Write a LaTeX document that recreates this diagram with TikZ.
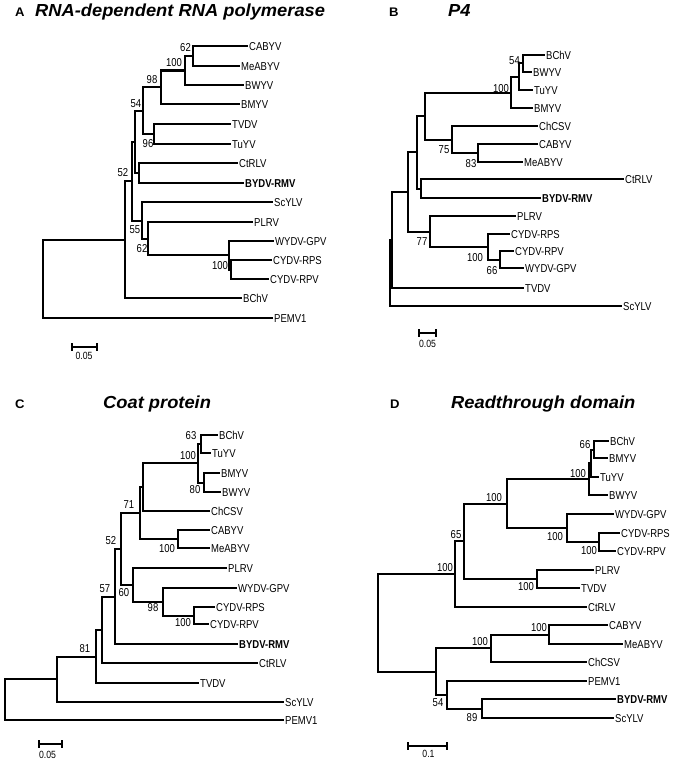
\documentclass[tikz,border=0pt]{standalone}
\usepackage{fontspec}
\newfontfamily\leaffont[FakeStretch=0.83]{Liberation Sans}
\newfontfamily\headfont[FakeStretch=1.05]{Liberation Sans}

\begin{document}
\begin{tikzpicture}[x=1bp, y=-1bp,
  branch/.style={line width=2bp, line cap=rect},
  leaf/.style={anchor=west, inner xsep=2pt, inner ysep=0pt, text height=8.3pt, text depth=0pt,
    font=\leaffont\fontsize{11.5}{12}\selectfont},
  rmv/.style={leaf, font=\leaffont\bfseries\fontsize{11.5}{12}\selectfont},
  bs/.style={inner sep=0pt, text height=8.3pt, text depth=0pt, font=\leaffont\fontsize{11.5}{12}\selectfont},
  panel/.style={anchor=base west, inner sep=0pt, font=\headfont\bfseries\fontsize{12.5}{14}\selectfont},
  heading/.style={anchor=base west, inner sep=0pt, font=\headfont\bfseries\itshape\fontsize{17.5}{20}\selectfont},
  scalebar/.style={line width=2bp},
  scaletext/.style={inner sep=0pt, text height=8pt, text depth=0pt, font=\leaffont\fontsize{10.5}{12}\selectfont}
]
  \useasboundingbox (0,0) rectangle (679,764);

  % ---- A: RdRp ----
  \node[panel] (pA) at (15,17) {A};
  \node[heading] (hA) at (35,17) {RNA-dependent RNA polymerase};
  \coordinate (a62) at (193,56);
  \coordinate (a100) at (185,70.5);
  \coordinate (a98) at (161,87);
  \coordinate (a96) at (154,134);
  \coordinate (a54) at (143,110.5);
  \coordinate (act) at (139,173);
  \coordinate (ax1) at (135,142);
  \coordinate (arp) at (231,269.5);
  \coordinate (a100b) at (229,255);
  \coordinate (a62b) at (148,238.5);
  \coordinate (a55) at (142,220.5);
  \coordinate (a52) at (132,181);
  \coordinate (abc) at (125,239.5);
  \coordinate (aroot) at (43,279);
  \node[leaf] (aCABYV) at (247,46) {CABYV};
  \node[leaf] (aMeABYV) at (239,66) {MeABYV};
  \node[leaf] (aBWYV) at (243,85) {BWYV};
  \node[leaf] (aBMYV) at (239,104) {BMYV};
  \node[leaf] (aTVDV) at (230,124) {TVDV};
  \node[leaf] (aTuYV) at (230,144) {TuYV};
  \node[leaf] (aCtRLV) at (237,163) {CtRLV};
  \node[rmv] (aRMV) at (243,183) {BYDV-RMV};
  \node[leaf] (aScYLV) at (272,202) {ScYLV};
  \node[leaf] (aPLRV) at (252,222) {PLRV};
  \node[leaf] (aWYDV) at (273,241) {WYDV-GPV};
  \node[leaf] (aRPS) at (271,260) {CYDV-RPS};
  \node[leaf] (aRPV) at (268,279) {CYDV-RPV};
  \node[leaf] (aBChV) at (241,298) {BChV};
  \node[leaf] (aPEMV) at (272,318) {PEMV1};
  \foreach \p/\c in {a62/aCABYV, a62/aMeABYV, a100/aBWYV, a98/aBMYV, a96/aTVDV, a96/aTuYV,
      act/aCtRLV, act/aRMV, a55/aScYLV, a62b/aPLRV, a100b/aWYDV, arp/aRPS, arp/aRPV,
      abc/aBChV, aroot/aPEMV}
    \draw[branch] (\p) |- (\c.west);
  \foreach \p/\c in {a100/a62, a98/a100, a54/a98, a54/a96, ax1/a54, ax1/act, a52/ax1, a52/a55,
      a55/a62b, a62b/a100b, a100b/arp, abc/a52, aroot/abc}
    \draw[branch] (\p) |- (\c);
  \foreach \x/\y/\t [count=\i] in {185.5/47/62, 174/62/100, 152/79/98, 136/103/54, 148/143/96,
      123/172/52, 135/229/55, 142/248/62, 220/265/100}
    \node[bs] (bsA\i) at (\x,\y) {\t};
  \coordinate (sa1) at (72,347);
  \coordinate (sa2) at (97,347);
  \draw[scalebar] ([yshift=4pt]sa1) -- ([yshift=-4pt]sa1) (sa1) -- (sa2)
    ([yshift=4pt]sa2) -- ([yshift=-4pt]sa2);
  \node[scaletext] (saT) at (84,356) {0.05};

  % ---- B: P4 ----
  \node[panel] (pB) at (389,17) {B};
  \node[heading] (hB) at (448,17) {P4};
  \coordinate (b54) at (523,63.5);
  \coordinate (btu) at (519,77);
  \coordinate (b100) at (511,92.5);
  \coordinate (b83) at (478,153);
  \coordinate (b75) at (452,139.5);
  \coordinate (bup) at (425,116);
  \coordinate (bct) at (421,188.5);
  \coordinate (bmid) at (417,152);
  \coordinate (b66) at (500,259.5);
  \coordinate (b100b) at (488,247);
  \coordinate (b77) at (430,231.5);
  \coordinate (bin) at (408,192);
  \coordinate (btv) at (392,240);
  \coordinate (broot) at (390,273);
  \node[leaf] (bBChV) at (544,55) {BChV};
  \node[leaf] (bBWYV) at (531,72) {BWYV};
  \node[leaf] (bTuYV) at (532,90) {TuYV};
  \node[leaf] (bBMYV) at (532,108) {BMYV};
  \node[leaf] (bChCSV) at (537,126) {ChCSV};
  \node[leaf] (bCABYV) at (537,144) {CABYV};
  \node[leaf] (bMeABYV) at (522,162) {MeABYV};
  \node[leaf] (bCtRLV) at (623,179) {CtRLV};
  \node[rmv] (bRMV) at (540,198) {BYDV-RMV};
  \node[leaf] (bPLRV) at (515,216) {PLRV};
  \node[leaf] (bRPS) at (509,234) {CYDV-RPS};
  \node[leaf] (bRPV) at (513,251) {CYDV-RPV};
  \node[leaf] (bWYDV) at (523,268) {WYDV-GPV};
  \node[leaf] (bTVDV) at (523,288) {TVDV};
  \node[leaf] (bScYLV) at (621,306) {ScYLV};
  \foreach \p/\c in {b54/bBChV, b54/bBWYV, btu/bTuYV, b100/bBMYV, b75/bChCSV, b83/bCABYV,
      b83/bMeABYV, bct/bCtRLV, bct/bRMV, b77/bPLRV, b100b/bRPS, b66/bRPV, b66/bWYDV,
      btv/bTVDV, broot/bScYLV}
    \draw[branch] (\p) |- (\c.west);
  \foreach \p/\c in {btu/b54, b100/btu, bup/b100, bup/b75, b75/b83, bmid/bup, bmid/bct,
      bin/bmid, bin/b77, b77/b100b, b100b/b66, btv/bin, broot/btv}
    \draw[branch] (\p) |- (\c);
  \foreach \x/\y/\t [count=\i] in {514.5/60/54, 501/88/100, 444/149/75, 471/163/83,
      422/241/77, 475/257/100, 492/270/66}
    \node[bs] (bsB\i) at (\x,\y) {\t};
  \coordinate (sb1) at (419,333);
  \coordinate (sb2) at (436,333);
  \draw[scalebar] ([yshift=4pt]sb1) -- ([yshift=-4pt]sb1) (sb1) -- (sb2)
    ([yshift=4pt]sb2) -- ([yshift=-4pt]sb2);
  \node[scaletext] (sbT) at (427.5,344) {0.05};

  % ---- C: coat protein ----
  \node[panel] (pC) at (15,408) {C};
  \node[heading] (hC) at (103,408) {Coat protein};
  \coordinate (c63) at (201,444);
  \coordinate (c80) at (204,482.5);
  \coordinate (c100) at (198,463);
  \coordinate (cch) at (143,487);
  \coordinate (cca) at (178,539);
  \coordinate (c71) at (140,513);
  \coordinate (ccy) at (194,615.5);
  \coordinate (c98) at (163,602);
  \coordinate (c60) at (133,585);
  \coordinate (c52) at (121,549);
  \coordinate (c57) at (115,596.5);
  \coordinate (cct) at (102,630);
  \coordinate (c81) at (96,656.5);
  \coordinate (csc) at (57,679);
  \coordinate (croot) at (5,699.5);
  \node[leaf] (cBChV) at (217,435) {BChV};
  \node[leaf] (cTuYV) at (210,453) {TuYV};
  \node[leaf] (cBMYV) at (219,473) {BMYV};
  \node[leaf] (cBWYV) at (220,492) {BWYV};
  \node[leaf] (cChCSV) at (209,511) {ChCSV};
  \node[leaf] (cCABYV) at (209,530) {CABYV};
  \node[leaf] (cMeABYV) at (209,548) {MeABYV};
  \node[leaf] (cPLRV) at (226,568) {PLRV};
  \node[leaf] (cWYDV) at (236,588) {WYDV-GPV};
  \node[leaf] (cRPS) at (214,607) {CYDV-RPS};
  \node[leaf] (cRPV) at (208,624) {CYDV-RPV};
  \node[rmv] (cRMV) at (237,644) {BYDV-RMV};
  \node[leaf] (cCtRLV) at (257,663) {CtRLV};
  \node[leaf] (cTVDV) at (198,683) {TVDV};
  \node[leaf] (cScYLV) at (283,702) {ScYLV};
  \node[leaf] (cPEMV) at (283,720) {PEMV1};
  \foreach \p/\c in {c63/cBChV, c63/cTuYV, c80/cBMYV, c80/cBWYV, cch/cChCSV, cca/cCABYV,
      cca/cMeABYV, c60/cPLRV, c98/cWYDV, ccy/cRPS, ccy/cRPV, c57/cRMV, cct/cCtRLV,
      c81/cTVDV, csc/cScYLV, croot/cPEMV}
    \draw[branch] (\p) |- (\c.west);
  \foreach \p/\c in {c100/c63, c100/c80, cch/c100, c71/cch, c71/cca, c52/c71, c52/c60,
      c60/c98, c98/ccy, c57/c52, cct/c57, c81/cct, csc/c81, croot/csc}
    \draw[branch] (\p) |- (\c);
  \foreach \x/\y/\t [count=\i] in {191/435/63, 188/455/100, 195/489/80, 129/504/71,
      167/548/100, 111/540/52, 105/588/57, 124/592/60, 153/607/98, 183/622/100, 85/648/81}
    \node[bs] (bsC\i) at (\x,\y) {\t};
  \coordinate (sc1) at (39,744);
  \coordinate (sc2) at (62,744);
  \draw[scalebar] ([yshift=4pt]sc1) -- ([yshift=-4pt]sc1) (sc1) -- (sc2)
    ([yshift=4pt]sc2) -- ([yshift=-4pt]sc2);
  \node[scaletext] (scT) at (47.5,755) {0.05};

  % ---- D: readthrough domain ----
  \node[panel] (pD) at (390,408) {D};
  \node[heading] (hD) at (451,408) {Readthrough domain};
  \coordinate (d66) at (594,449.5);
  \coordinate (dtu) at (591,463);
  \coordinate (d100a) at (589,479);
  \coordinate (d100d) at (599,542);
  \coordinate (d100c) at (567,528);
  \coordinate (d100b) at (507,503.5);
  \coordinate (d100e) at (537,579);
  \coordinate (d100f) at (464,541);
  \coordinate (d65) at (455,574);
  \coordinate (d100g) at (549,634.5);
  \coordinate (d100h) at (491,648);
  \coordinate (d89) at (482,708.5);
  \coordinate (d54) at (447,695);
  \coordinate (dlow) at (436,671.5);
  \coordinate (droot) at (378,623);
  \node[leaf] (dBChV) at (608,441) {BChV};
  \node[leaf] (dBMYV) at (607,458) {BMYV};
  \node[leaf] (dTuYV) at (598,477) {TuYV};
  \node[leaf] (dBWYV) at (607,495) {BWYV};
  \node[leaf] (dWYDV) at (613,514) {WYDV-GPV};
  \node[leaf] (dRPS) at (619,533) {CYDV-RPS};
  \node[leaf] (dRPV) at (615,551) {CYDV-RPV};
  \node[leaf] (dPLRV) at (593,570) {PLRV};
  \node[leaf] (dTVDV) at (579,588) {TVDV};
  \node[leaf] (dCtRLV) at (586,607) {CtRLV};
  \node[leaf] (dCABYV) at (607,625) {CABYV};
  \node[leaf] (dMeABYV) at (622,644) {MeABYV};
  \node[leaf] (dChCSV) at (586,662) {ChCSV};
  \node[leaf] (dPEMV) at (586,681) {PEMV1};
  \node[rmv] (dRMV) at (615,699) {BYDV-RMV};
  \node[leaf] (dScYLV) at (613,718) {ScYLV};
  \foreach \p/\c in {d66/dBChV, d66/dBMYV, dtu/dTuYV, d100a/dBWYV, d100c/dWYDV, d100d/dRPS,
      d100d/dRPV, d100e/dPLRV, d100e/dTVDV, d65/dCtRLV, d100g/dCABYV, d100g/dMeABYV,
      d100h/dChCSV, d54/dPEMV, d89/dRMV, d89/dScYLV}
    \draw[branch] (\p) |- (\c.west);
  \foreach \p/\c in {dtu/d66, d100a/dtu, d100b/d100a, d100b/d100c, d100c/d100d, d100f/d100b,
      d100f/d100e, d65/d100f, droot/d65, droot/dlow, dlow/d100h, d100h/d100g, dlow/d54, d54/d89}
    \draw[branch] (\p) |- (\c);
  \foreach \x/\y/\t [count=\i] in {585/444/66, 578/473/100, 494/497/100, 555/536/100,
      589/550/100, 456/534/65, 445/567/100, 526/586/100, 539/627/100, 480/641/100,
      438/702/54, 472/717/89}
    \node[bs] (bsD\i) at (\x,\y) {\t};
  \coordinate (sd1) at (408,746);
  \coordinate (sd2) at (447,746);
  \draw[scalebar] ([yshift=4pt]sd1) -- ([yshift=-4pt]sd1) (sd1) -- (sd2)
    ([yshift=4pt]sd2) -- ([yshift=-4pt]sd2);
  \node[scaletext] (sdT) at (428.5,754) {0.1};
\end{tikzpicture}
\end{document}
